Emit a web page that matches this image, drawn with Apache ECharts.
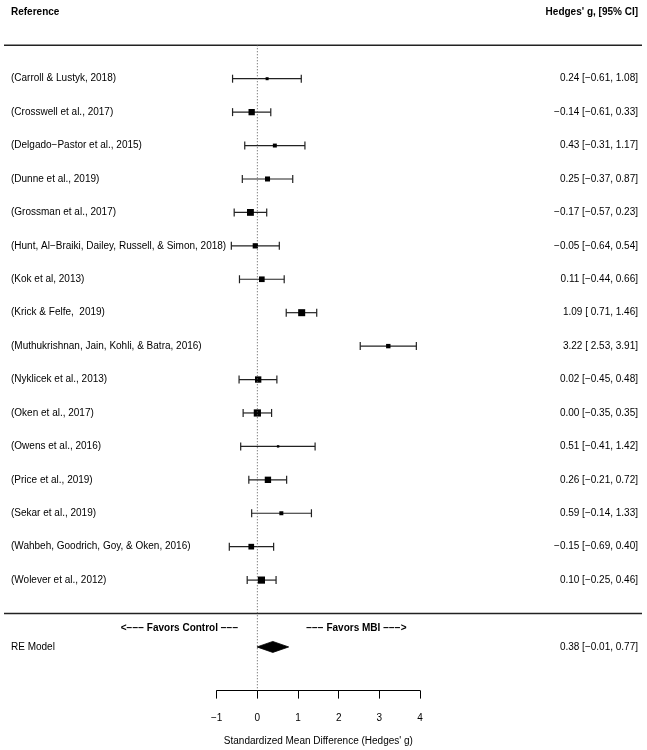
<!DOCTYPE html>
<html>
<head>
<meta charset="utf-8">
<script src="https://cdn.jsdelivr.net/npm/echarts@6/dist/echarts.min.js"></script>
<style>
  html, body { margin: 0; padding: 0; background: #fff; }
  #chart { width: 647px; height: 750px; }
</style>
</head>
<body>
<div id="chart"></div>
<script>
// ---------------- Data ----------------
const studies = [
  '(Carroll & Lustyk, 2018)',
  '(Crosswell et al., 2017)',
  '(Delgado\u2212Pastor et al., 2015)',
  '(Dunne et al., 2019)',
  '(Grossman et al., 2017)',
  '(Hunt, Al\u2212Braiki, Dailey, Russell, & Simon, 2018)',
  '(Kok et al, 2013)',
  '(Krick & Felfe,  2019)',
  '(Muthukrishnan, Jain, Kohli, & Batra, 2016)',
  '(Nyklicek et al., 2013)',
  '(Oken et al., 2017)',
  '(Owens et al., 2016)',
  '(Price et al., 2019)',
  '(Sekar et al., 2019)',
  '(Wahbeh, Goodrich, Goy, & Oken, 2016)',
  '(Wolever et al., 2012)'
];
const est   = [0.24, -0.14, 0.43, 0.25, -0.17, -0.05, 0.11, 1.09, 3.22, 0.02, 0.00, 0.51, 0.26, 0.59, -0.15, 0.10];
const lower = [-0.61, -0.61, -0.31, -0.37, -0.57, -0.64, -0.44, 0.71, 2.53, -0.45, -0.35, -0.41, -0.21, -0.14, -0.69, -0.25];
const upper = [1.08, 0.33, 1.17, 0.87, 0.23, 0.54, 0.66, 1.46, 3.91, 0.48, 0.35, 1.42, 0.72, 1.33, 0.40, 0.46];

const reLabel = 'RE Model';
const reEst = 0.38;
const reLower = -0.01;
const reUpper = 0.77;

const xTicks = [-1, 0, 1, 2, 3, 4];
const headerLeft = 'Reference';
const headerRight = "Hedges' g, [95% CI]";
const axisTitle = "Standardized Mean Difference (Hedges' g)";
const favorsLeft = '<\u2212\u2212\u2212 Favors Control \u2212\u2212\u2212';
const favorsRight = '\u2212\u2212\u2212 Favors MBI \u2212\u2212\u2212>';

// ---------------- Helpers ----------------
const MINUS = '\u2212';
function fmt(v) {
  const s = Math.abs(v).toFixed(2);
  return (v < 0 && Number(s) !== 0 ? MINUS : '') + s;
}
function fmtPad(v) {
  const s = fmt(v);
  return (s.charAt(0) === MINUS ? '' : ' ') + s;
}
function ciText(e, l, u) {
  return fmt(e) + ' [' + fmtPad(l) + ', ' + fmt(u) + ']';
}

const k = studies.length;
const rowOf = i => k - i;          // study rows: k .. 1
const reRow = -1;
const sepRow = 0;
const topRow = k + 1;
const headRow = k + 2;
const yMin = -2.306;

// point sizes from random-effects weights (DerSimonian-Laird tau^2), scaled 0.5..1.5
const vi = studies.map((s, i) => Math.pow((upper[i] - lower[i]) / 3.92, 2));
const wFE = vi.map(v => 1 / v);
const sW = wFE.reduce((a, b) => a + b, 0);
const yBar = wFE.reduce((a, w, i) => a + w * est[i], 0) / sW;
const Q = wFE.reduce((a, w, i) => a + w * Math.pow(est[i] - yBar, 2), 0);
const Cc = sW - wFE.reduce((a, w) => a + w * w, 0) / sW;
const tau2 = Math.max(0, (Q - (k - 1)) / Cc);
const wRE = vi.map(v => 1 / (v + tau2));
const wMin = Math.min(...wRE), wMax = Math.max(...wRE);
const pSize = wRE.map(w => 0.5 + (w - wMin) / (wMax - wMin));
const PX = 7.2 / 1.5;

const FONT = '"Liberation Sans", Arial, Helvetica, sans-serif';

const ciData = studies.map((s, i) => [est[i], lower[i], upper[i], rowOf(i), pSize[i] * PX]);
const leftText = studies.map((s, i) => [0, rowOf(i), s, 'normal']);
leftText.push([0, reRow, reLabel, 'normal']);
leftText.push([0, headRow, headerLeft, 'bold']);
const rightText = studies.map((s, i) => [1, rowOf(i), ciText(est[i], lower[i], upper[i]), 'normal']);
rightText.push([1, reRow, ciText(reEst, reLower, reUpper), 'normal']);
rightText.push([1, headRow, headerRight, 'bold']);

const chart = echarts.init(document.getElementById('chart'), null, { renderer: 'canvas' });

function textItem(alignDir, dx) {
  return function (params, api) {
    const p = api.coord([api.value(0), api.value(1)]);
    const d = (alignDir === 'left' ? leftText : rightText)[params.dataIndex];
    return {
      type: 'text',
      x: p[0] + dx,
      y: p[1],
      style: {
        text: d[2],
        textAlign: alignDir,
        textVerticalAlign: 'middle',
        align: alignDir,
        verticalAlign: 'middle',
        fill: '#000',
        font: d[3] + ' 10px ' + FONT
      }
    };
  };
}

const option = {
  animation: false,
  backgroundColor: '#fff',
  grid: [
    { left: 216.7, right: 227, top: 11.85, bottom: 59.4, containLabel: false, outerBoundsMode: 'none' },
    { left: 4, right: 5, top: 11.85, bottom: 59.4, containLabel: false, outerBoundsMode: 'none' }
  ],
  xAxis: [
    {
      gridIndex: 0, type: 'value', min: xTicks[0], max: xTicks[xTicks.length - 1], interval: 1,
      position: 'bottom',
      axisLine: { show: true, onZero: false, lineStyle: { color: '#000', width: 1 } },
      axisTick: { show: true, length: 8, lineStyle: { color: '#000', width: 1 } },
      axisLabel: {
        show: true, margin: 23, color: '#000', fontSize: 10, fontFamily: FONT,
        formatter: v => (v < 0 ? MINUS + Math.abs(v) : String(v))
      },
      splitLine: { show: false },
      name: axisTitle, nameLocation: 'middle', nameGap: 46,
      nameTextStyle: { color: '#000', fontSize: 10, fontFamily: FONT }
    },
    { gridIndex: 1, type: 'value', min: 0, max: 1, show: false }
  ],
  yAxis: [
    { gridIndex: 0, type: 'value', min: yMin, max: headRow, show: false },
    { gridIndex: 1, type: 'value', min: yMin, max: headRow, show: false }
  ],
  series: [
    // horizontal separator lines
    {
      type: 'custom', xAxisIndex: 1, yAxisIndex: 1, silent: true,
      data: [[0, topRow], [0, sepRow]],
      encode: { x: 0, y: 1 },
      renderItem: function (params, api) {
        const a = api.coord([0, api.value(1)]);
        const b = api.coord([1, api.value(1)]);
        return { type: 'line', shape: { x1: a[0], y1: a[1], x2: b[0], y2: b[1] },
                 style: { stroke: '#222', lineWidth: 1.5 } };
      }
    },
    // vertical reference line at 0
    {
      type: 'line', xAxisIndex: 0, yAxisIndex: 0, silent: true, symbol: 'none',
      data: [[0, topRow], [0, yMin]],
      lineStyle: { color: '#555', width: 1, type: [1, 2] }
    },
    // study CIs and squares
    {
      type: 'custom', xAxisIndex: 0, yAxisIndex: 0, silent: true,
      data: ciData,
      encode: { x: [0, 1, 2], y: 3 },
      renderItem: function (params, api) {
        const y = api.value(3);
        const pl = api.coord([api.value(1), y]);
        const pu = api.coord([api.value(2), y]);
        const pc = api.coord([api.value(0), y]);
        const s = api.value(4);
        const st = { stroke: '#222', lineWidth: 1.2 };
        const cap = 4;
        return {
          type: 'group',
          children: [
            { type: 'line', shape: { x1: pl[0], y1: pl[1], x2: pu[0], y2: pu[1] }, style: st },
            { type: 'line', shape: { x1: pl[0], y1: pl[1] - cap, x2: pl[0], y2: pl[1] + cap }, style: st },
            { type: 'line', shape: { x1: pu[0], y1: pu[1] - cap, x2: pu[0], y2: pu[1] + cap }, style: st },
            { type: 'rect', shape: { x: pc[0] - s / 2, y: pc[1] - s / 2, width: s, height: s }, style: { fill: '#000' } }
          ]
        };
      }
    },
    // RE model diamond
    {
      type: 'custom', xAxisIndex: 0, yAxisIndex: 0, silent: true,
      data: [[reEst, reLower, reUpper, reRow]],
      encode: { x: [0, 1, 2], y: 3 },
      renderItem: function (params, api) {
        const y = api.value(3);
        const pl = api.coord([api.value(1), y]);
        const pu = api.coord([api.value(2), y]);
        const pc = api.coord([api.value(0), y]);
        const h = 5.5;
        return {
          type: 'polygon',
          shape: { points: [[pl[0], pl[1]], [pc[0], pc[1] - h], [pu[0], pu[1]], [pc[0], pc[1] + h]] },
          style: { fill: '#000', stroke: '#000', lineWidth: 0.8 }
        };
      }
    },
    // Favors labels
    {
      type: 'custom', xAxisIndex: 0, yAxisIndex: 0, silent: true,
      data: [[-0.47, -0.45, 0], [1.2, -0.45, 1]],
      encode: { x: 0, y: 1 },
      renderItem: function (params, api) {
        const p = api.coord([api.value(0), api.value(1)]);
        const isLeft = api.value(2) === 0;
        const al = isLeft ? 'right' : 'left';
        return {
          type: 'text', x: p[0], y: p[1],
          style: {
            text: isLeft ? favorsLeft : favorsRight,
            textAlign: al, align: al, textVerticalAlign: 'middle', verticalAlign: 'middle',
            fill: '#000', font: 'bold 10px ' + FONT
          }
        };
      }
    },
    // left text column
    {
      type: 'custom', xAxisIndex: 1, yAxisIndex: 1, silent: true,
      data: leftText.map(d => [d[0], d[1]]),
      encode: { x: 0, y: 1 },
      renderItem: textItem('left', 7)
    },
    // right text column
    {
      type: 'custom', xAxisIndex: 1, yAxisIndex: 1, silent: true,
      data: rightText.map(d => [d[0], d[1]]),
      encode: { x: 0, y: 1 },
      renderItem: textItem('right', -4)
    }
  ]
};

chart.setOption(option);
</script>
</body>
</html>
